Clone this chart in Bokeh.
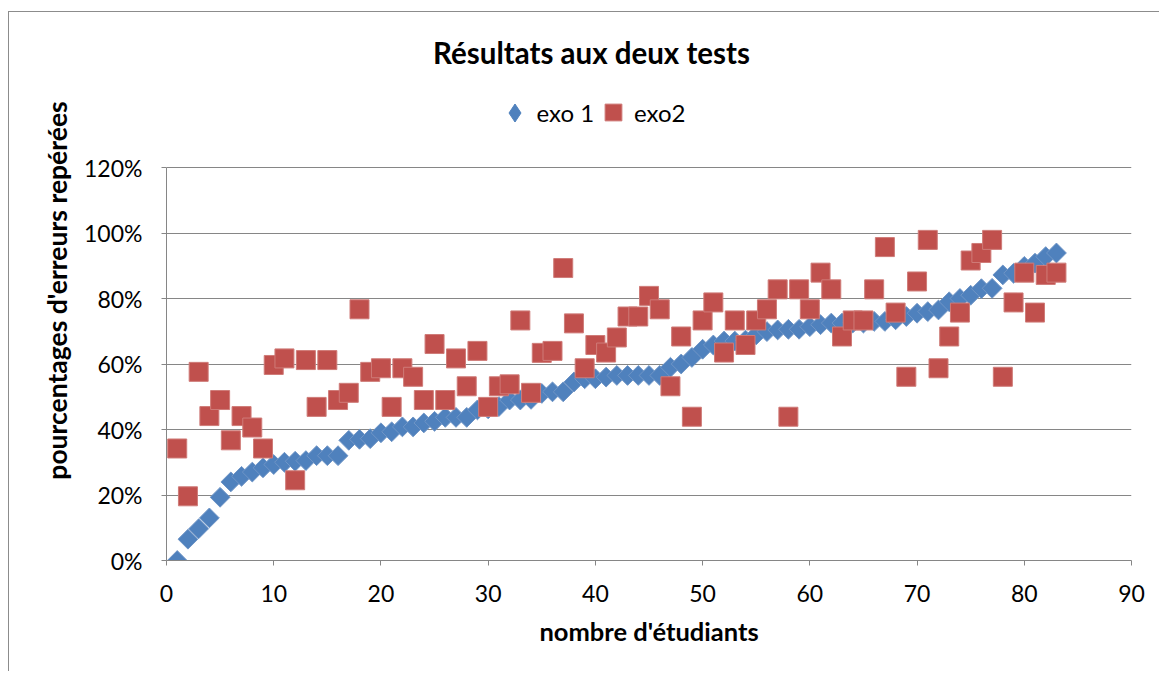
import numpy as np
from bokeh.plotting import figure
from bokeh.models import Range1d, FixedTicker, NumeralTickFormatter, Legend, LegendItem, Label
from bokeh.embed import file_html
from bokeh.resources import INLINE
from math import pi

# ---- data ----
students = list(range(1, 84))
exo1_pct = [0, 6.5, 9.7, 13, 19.3, 24, 25.7, 27, 28.3, 29.3,
            30, 30.3, 30.5, 32, 32, 32, 36.7, 37, 37.2, 39,
            39.3, 40.8, 40.8, 42, 42.5, 43.7, 43.7, 43.7, 46, 46.3,
            47, 49, 49, 49.2, 51, 51.5, 51.5, 54.5, 55.5, 55.5,
            56, 56.5, 56.5, 56.5, 56.5, 56.5, 59, 60, 62, 64.5,
            65.8, 67, 67, 67.3, 68.9, 69.9, 70.4, 70.6, 70.6, 71.4,
            72, 72.5, 72.5, 72.5, 72.5, 73, 73, 73.5, 74.5, 75.5,
            76, 76.5, 79, 80, 81, 83, 83.1, 87.2, 87.7, 89.8,
            90.8, 92.8, 93.9]
exo2_pct = [34.2, 19.6, 57.6, 44.1, 49, 36.7, 44.1, 40.6, 34.2, 59.7,
            61.7, 24.5, 61.2, 46.9, 61.2, 49, 51.2, 76.7, 57.6, 58.7,
            46.9, 58.7, 56.1, 49, 66.1, 49, 61.7, 53.2, 64, 46.9,
            53.2, 53.8, 73.3, 51.2, 63.4, 64, 89.3, 72.4, 58.7, 65.8,
            63.5, 68.1, 74.5, 74.5, 80.8, 76.7, 53.2, 68.4, 43.9, 73.3,
            78.8, 63.5, 73.3, 65.8, 73.3, 76.7, 82.8, 43.9, 82.8, 76.7,
            87.9, 82.8, 68.4, 73.3, 73.3, 82.8, 95.7, 75.7, 56.1, 85.2,
            97.9, 58.7, 68.4, 75.7, 91.6, 93.9, 97.9, 56.1, 78.8, 87.9,
            75.7, 87.2, 87.9]
x_ticks = [0, 10, 20, 30, 40, 50, 60, 70, 80, 90]
y_ticks = [0, 0.2, 0.4, 0.6, 0.8, 1.0, 1.2]
series_names = ["exo 1", "exo2"]
chart_title = "Résultats aux deux tests"

exo1 = [v / 100 for v in exo1_pct]
exo2 = [v / 100 for v in exo2_pct]

FONT = "Lato"
GRAY = "#868686"
BLUE = "#4F81BD"
RED = "#C0504D"

# ---- layout (pixels) ----
# canvas origin on the page = (9, 12) because of the CSS margin + border
FRAME_TOP, FRAME_BOTTOM = 20, 560          # page y of the frame
PLOT_TOP = 167                              # page y of the 120 % gridline
FRAME_H = FRAME_BOTTOM - FRAME_TOP
y_max = y_ticks[-1] * FRAME_H / (FRAME_BOTTOM - PLOT_TOP)

p = figure(width=1151, height=660, output_backend="svg", toolbar_location=None,
           x_range=Range1d(x_ticks[0], x_ticks[-1]), y_range=Range1d(0, y_max),
           min_border_left=157, min_border_top=8, min_border_right=29,
           min_border_bottom=112, outline_line_color=None,
           background_fill_color="white", border_fill_color="white")
p.styles = {"margin-left": "8px", "margin-top": "11px",
            "border-left": "1px solid #8c8c8c", "border-top": "1px solid #8c8c8c"}

r1 = p.scatter(students, exo1, marker="square", angle=pi / 4, size=14,
               fill_color=BLUE, line_color="#6F95C6", line_width=1)
r2 = p.scatter(students, exo2, marker="square", size=19,
               fill_color=RED, line_color="#CF7B78", line_width=1)
# legend-only renderer (a single NaN point, never drawn) so the key is a diamond
r1_key = p.scatter(np.array([np.nan]), np.array([np.nan]), marker="diamond",
                   fill_color=BLUE, line_color=BLUE)

# axes
p.xaxis.ticker = FixedTicker(ticks=x_ticks)
p.yaxis.ticker = FixedTicker(ticks=y_ticks)
p.yaxis.bounds = (y_ticks[0], y_ticks[-1])
p.yaxis.formatter = NumeralTickFormatter(format="0%")
for ax in (p.xaxis, p.yaxis):
    ax.axis_line_color = GRAY
    ax.major_tick_line_color = GRAY
    ax.major_tick_out = 5
    ax.major_tick_in = 0
    ax.minor_tick_line_color = None
    ax.major_label_text_font = FONT
    ax.major_label_text_font_size = "23px"
    ax.major_label_text_color = "black"
    ax.axis_label_text_font = FONT
    ax.axis_label_text_font_style = "bold"
    ax.axis_label_text_color = "black"
p.yaxis.axis_label_text_font_size = "26.5px"
p.xaxis.axis_label_text_font_size = "25.5px"
p.yaxis.major_label_standoff = 19
p.xaxis.major_label_standoff = 19
p.yaxis.axis_label = "pourcentages d'erreurs repérées"
p.xaxis.axis_label = "nombre d'étudiants"
p.yaxis.axis_label_standoff = 8
p.xaxis.axis_label_standoff = 11

p.xgrid.visible = False
p.ygrid.grid_line_color = GRAY
p.ygrid.grid_line_width = 1

# title (inside the extended frame, above the plotting area)
title_baseline = 52
p.add_layout(Label(x=(591 - 166) / 965 * x_ticks[-1],
                   y=y_max * (FRAME_BOTTOM - title_baseline) / FRAME_H,
                   text=chart_title, text_align="center",
                   text_baseline="alphabetic", text_font=FONT,
                   text_font_style="bold", text_font_size="29.5px",
                   text_color="black"))

# legends (one per item so each key gets its own size)
common = dict(orientation="horizontal", padding=0, margin=0, spacing=0,
              border_line_color=None, background_fill_alpha=0,
              label_text_font=FONT, label_text_font_size="24px",
              label_text_color="black", label_standoff=0)
leg1 = Legend(items=[LegendItem(label=series_names[0], renderers=[r1_key])],
              location=(325.5, 425.5), glyph_width=45, glyph_height=45, **common)
leg2 = Legend(items=[LegendItem(label=series_names[1], renderers=[r2])],
              location=(426, 427), glyph_width=42, glyph_height=42, **common)
p.add_layout(leg1)
p.add_layout(leg2)

open("out.html", "w").write(file_html(p, INLINE))
